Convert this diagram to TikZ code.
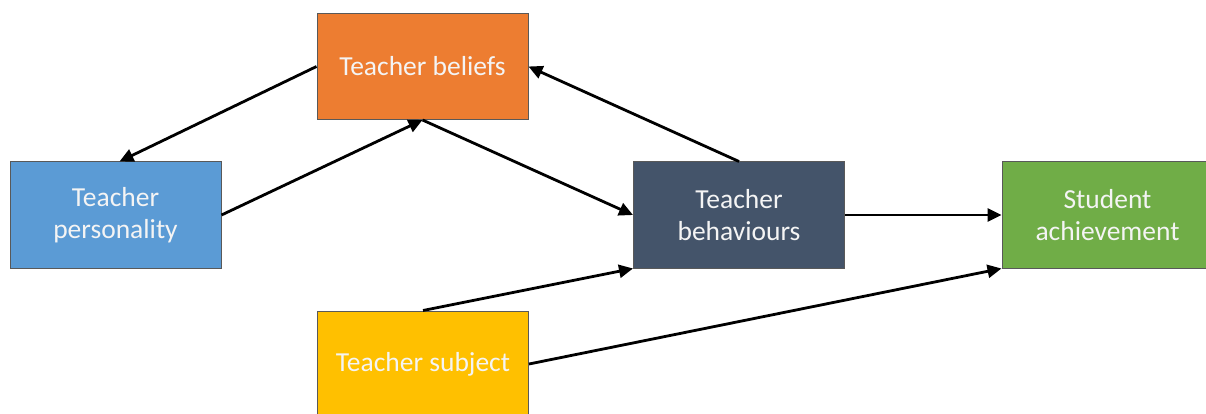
\documentclass[tikz,border=0pt]{standalone}
\usepackage{fontspec}
\setmainfont{Carlito}
\usetikzlibrary{arrows.meta}
\definecolor{cOrange}{HTML}{ED7D31}
\definecolor{cBlue}{HTML}{5B9BD5}
\definecolor{cSlate}{HTML}{44546A}
\definecolor{cGreen}{HTML}{70AD47}
\definecolor{cYellow}{HTML}{FFC000}
\definecolor{cText}{HTML}{F4F4F4}
\tikzset{
  box/.style={draw=black!65, line width=1pt, minimum width=211pt, minimum height=106pt,
    inner sep=0pt, align=center, text=cText,
    font=\fontsize{27.5}{32}\selectfont},
  link/.style={draw=black, line width=2.8pt, -{Triangle[length=14pt,width=13pt]}}
}
\begin{document}
\begin{tikzpicture}[x=1pt,y=-1pt]
\useasboundingbox (0,0) rectangle (1206,414);
\clip (0,0) rectangle (1206,414);
\node[box, fill=cOrange] (beliefs) at (422.5,66.5) {Teacher beliefs};
\node[box, fill=cBlue] (personality) at (115.5,215) {Teacher\\personality};
\node[box, fill=cSlate] (behaviours) at (739,215) {Teacher\\behaviours};
\node[box, fill=cGreen] (achievement) at (1107.5,215) {Student\\achievement};
\node[box, fill=cYellow] (subject) at (423,364) {Teacher subject};
\draw[link] (beliefs.west) -- ([xshift=4pt]personality.north);
\draw[link] (personality.east) -- (beliefs.south);
\draw[link] (beliefs.south) -- (behaviours.west);
\draw[link] (behaviours.north) -- (beliefs.east);
\draw[link] (behaviours.east) -- (achievement.west);
\draw[link] (subject.north) -- (behaviours.south west);
\draw[link] (subject.east) -- (achievement.south west);
\end{tikzpicture}
\end{document}
